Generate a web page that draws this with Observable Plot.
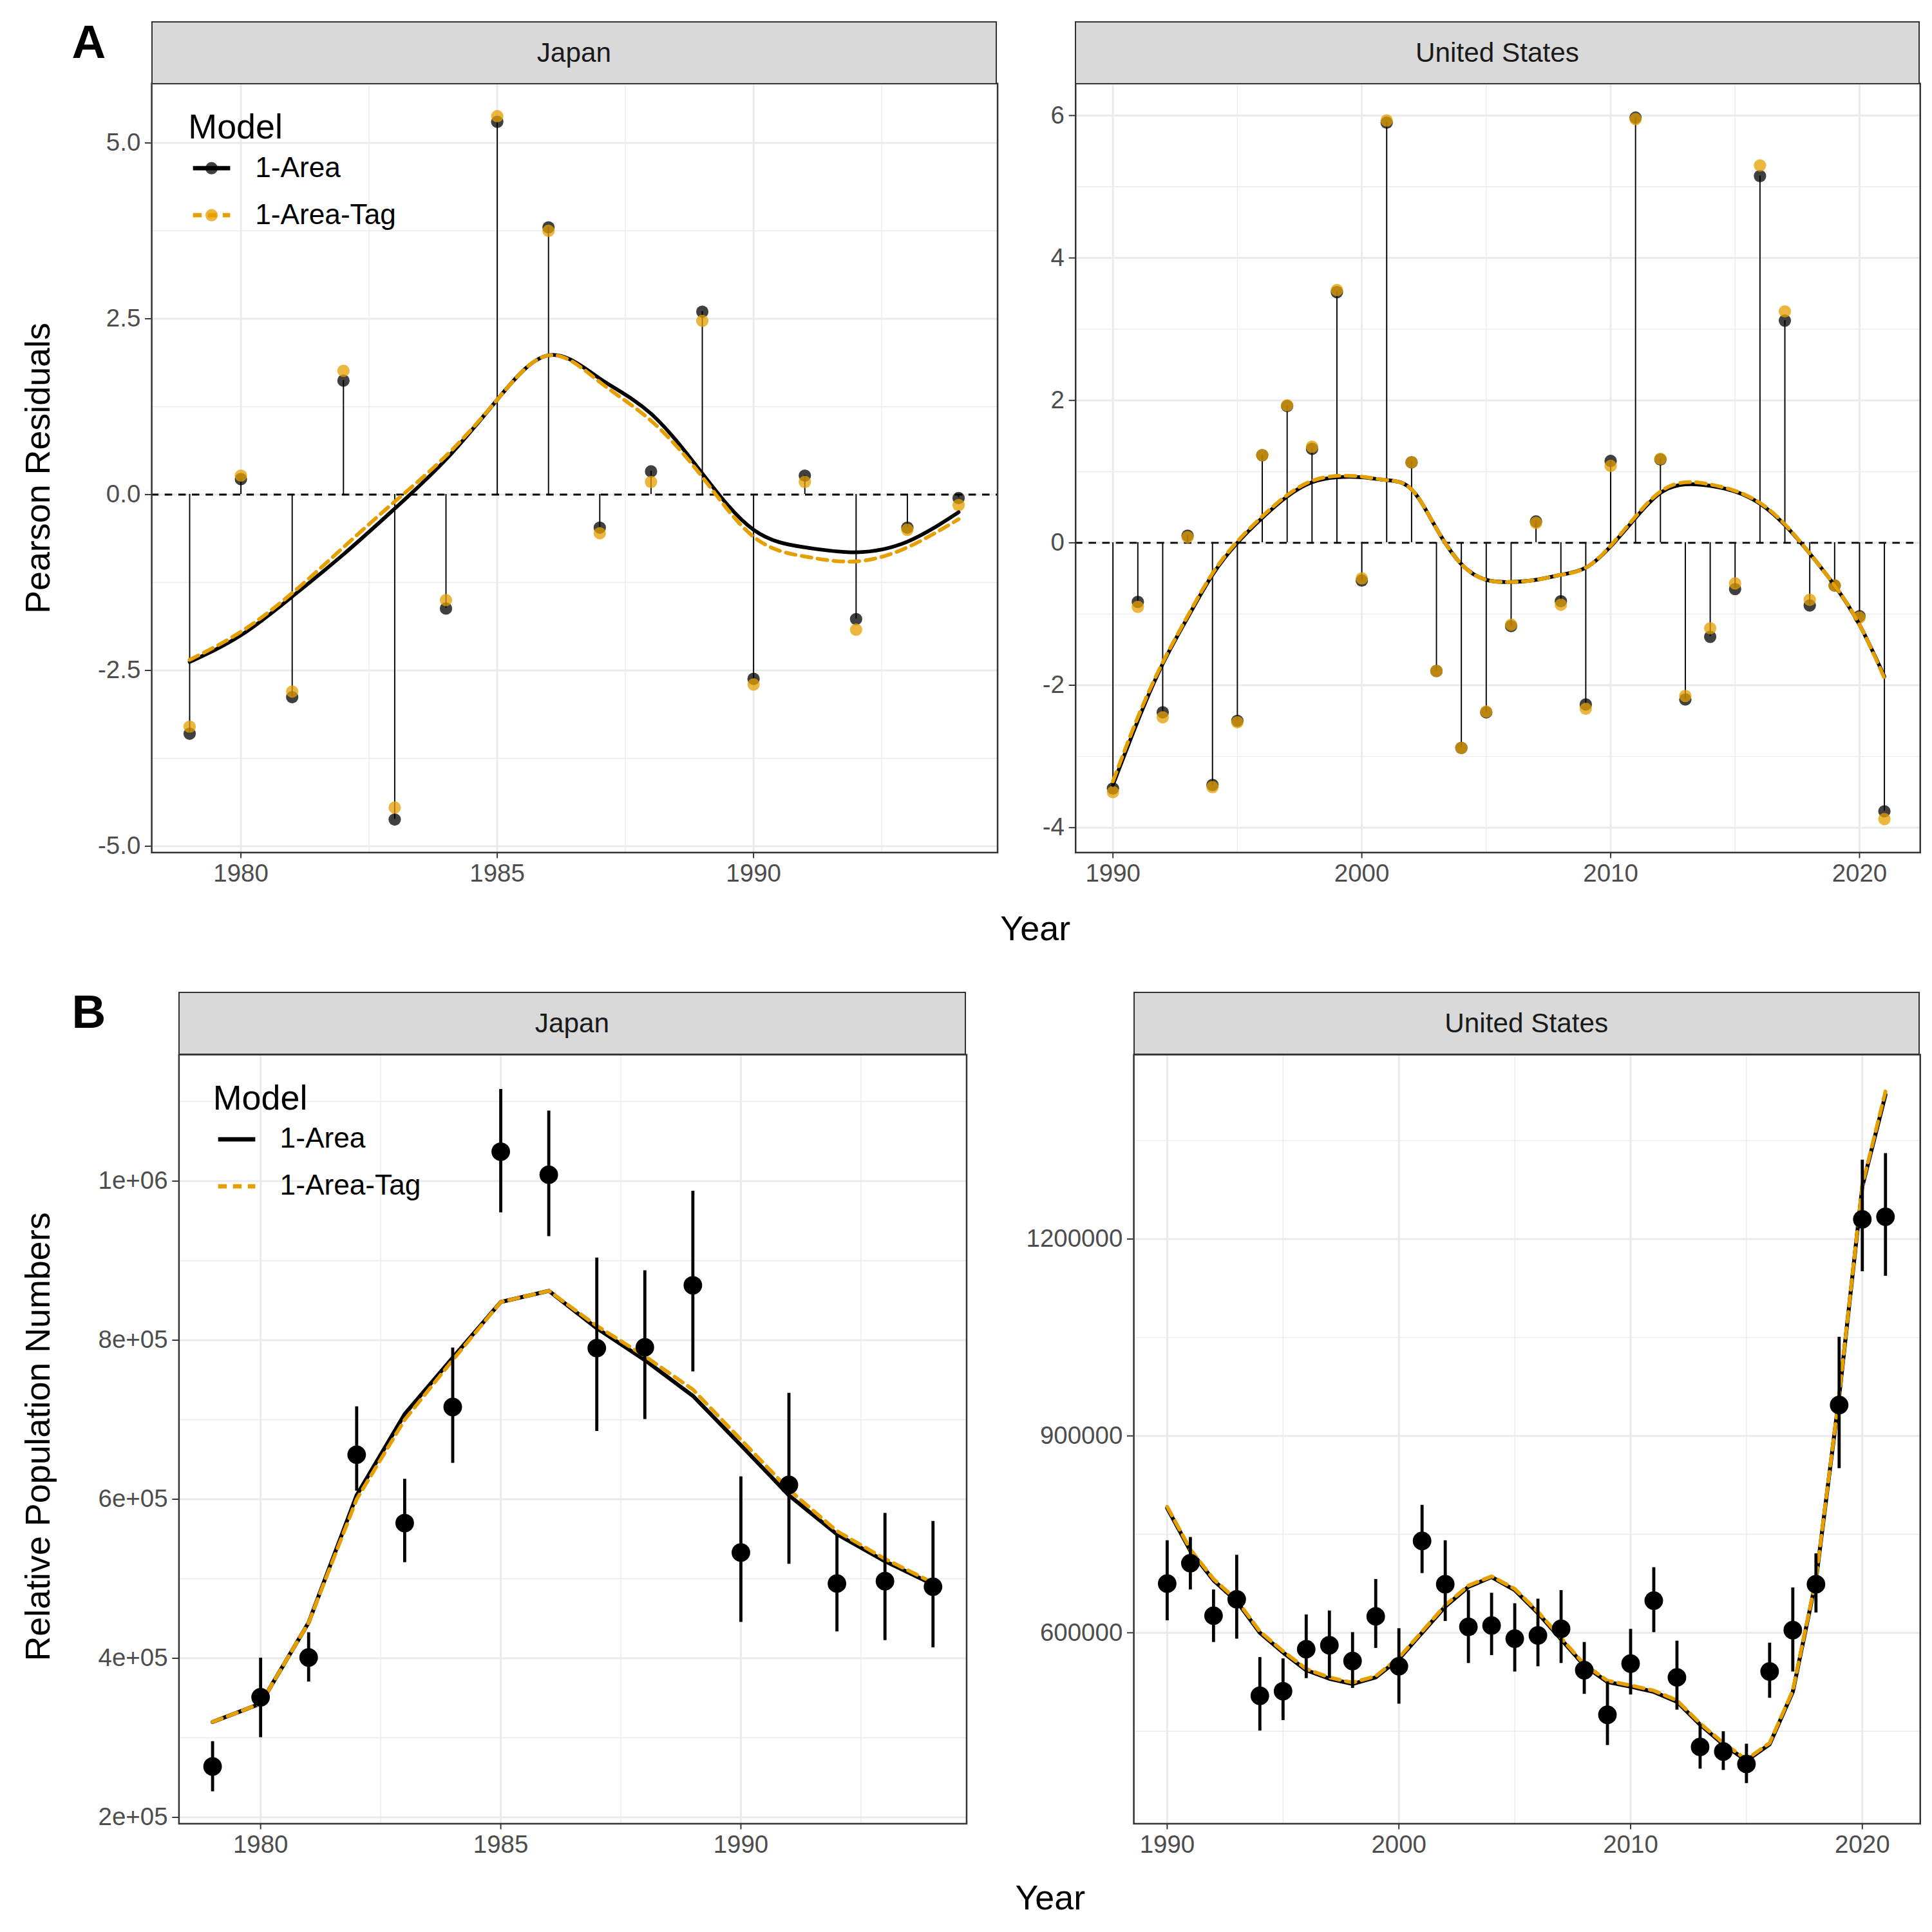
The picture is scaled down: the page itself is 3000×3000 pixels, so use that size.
<!DOCTYPE html>
<html><head><meta charset="utf-8">
<script src="https://cdn.jsdelivr.net/npm/d3@7"></script>
<script src="https://cdn.jsdelivr.net/npm/@observablehq/plot@0.6"></script>
<style>
body{margin:0;background:#fff;font-family:"Liberation Sans",Arial,sans-serif;}
#wrap{position:relative;width:1560px;height:1560px;zoom:1.9231;background:#fff;}
.abs{position:absolute;}
.strip{position:absolute;background:#d9d9d9;border:1.5px solid #333;box-sizing:border-box;text-align:center;font-size:22px;color:#1a1a1a;display:flex;align-items:center;justify-content:center;}
.txt{position:absolute;color:#000;white-space:nowrap;}
</style></head><body><div id="wrap"></div>
<script>
// ---------- DATA ----------
const jpYears = d3.range(1979, 1995);
const jpResid1Area = [-3.4,0.22,-2.88,1.62,-4.62,-1.62,5.3,3.8,-0.47,0.33,2.6,-2.62,0.27,-1.77,-0.47,-0.05];
const jpResidTag   = [-3.3,0.27,-2.8,1.76,-4.45,-1.5,5.38,3.75,-0.55,0.18,2.47,-2.7,0.18,-1.92,-0.5,-0.15];
const jpSmooth1Area = [-2.38,-2.0,-1.45,-0.85,-0.2,0.5,1.35,1.98,1.65,1.15,0.3,-0.5,-0.75,-0.82,-0.67,-0.25];
const jpSmoothTag   = [-2.35,-1.95,-1.4,-0.75,-0.1,0.55,1.35,1.98,1.6,1.05,0.25,-0.6,-0.88,-0.95,-0.75,-0.35];

const usYears = d3.range(1990, 2022);
const usResid1Area = [-3.45,-0.83,-2.38,0.1,-3.4,-2.5,1.23,1.92,1.32,3.52,-0.53,5.9,1.13,-1.8,-2.88,-2.38,-1.17,0.3,-0.82,-2.27,1.15,5.97,1.17,-2.2,-1.32,-0.65,5.15,3.12,-0.88,-0.6,-1.03,-3.77];
const usResidTag   = [-3.5,-0.9,-2.45,0.08,-3.43,-2.52,1.23,1.93,1.35,3.55,-0.5,5.93,1.13,-1.8,-2.88,-2.37,-1.15,0.28,-0.87,-2.33,1.08,5.95,1.18,-2.15,-1.2,-0.57,5.3,3.25,-0.8,-0.6,-1.05,-3.88];
const usSmooth1Area = [-3.4,-2.5,-1.7,-1.05,-0.45,0.0,0.35,0.65,0.85,0.92,0.92,0.88,0.75,0.2,-0.3,-0.52,-0.55,-0.52,-0.45,-0.35,-0.05,0.35,0.7,0.82,0.8,0.72,0.55,0.25,-0.15,-0.6,-1.15,-1.88];
const usSmoothTag   = [-3.35,-2.45,-1.68,-1.03,-0.43,0.02,0.37,0.67,0.87,0.94,0.93,0.88,0.75,0.2,-0.3,-0.52,-0.55,-0.52,-0.45,-0.35,-0.04,0.37,0.72,0.85,0.82,0.73,0.56,0.26,-0.15,-0.6,-1.15,-1.9];

const jpIndex = [264e3,351e3,401e3,656e3,570e3,716e3,1037e3,1008e3,790e3,791e3,869e3,533e3,618e3,494e3,497e3,490e3];
const jpLow   = [232e3,300e3,370e3,610e3,520e3,645e3,960e3,930e3,685e3,700e3,760e3,445e3,518e3,433e3,422e3,413e3];
const jpHigh  = [295e3,400e3,432e3,716e3,625e3,790e3,1115e3,1088e3,903e3,887e3,987e3,628e3,733e3,555e3,582e3,572e3];
const jpPop1Area = [320e3,343e3,445e3,605e3,707e3,778e3,848e3,862e3,815e3,775e3,730e3,668e3,605e3,556e3,522e3,493e3];
const jpPopTag   = [320e3,343e3,445e3,600e3,700e3,775e3,848e3,862e3,818e3,780e3,738e3,675e3,612e3,560e3,525e3,495e3];

const usIndex = [675e3,706e3,626e3,651e3,504e3,511e3,575e3,581e3,557e3,625e3,549e3,740e3,674e3,609e3,611e3,591e3,596e3,606e3,543e3,475e3,553e3,649e3,532e3,426e3,419e3,400e3,541e3,604e3,674e3,947e3,1230e3,1234e3];
const usLow   = [618e3,665e3,585e3,590e3,450e3,466e3,530e3,530e3,515e3,576e3,491e3,690e3,617e3,553e3,565e3,540e3,548e3,553e3,506e3,428e3,505e3,600e3,482e3,392e3,390e3,370e3,500e3,540e3,630e3,850e3,1150e3,1143e3];
const usHigh  = [740e3,745e3,665e3,718e3,562e3,560e3,627e3,633e3,600e3,681e3,606e3,794e3,740e3,664e3,660e3,644e3,651e3,664e3,585e3,525e3,605e3,699e3,587e3,460e3,449e3,430e3,584e3,668e3,720e3,1050e3,1320e3,1330e3];
const usPop1Area = [790e3,725e3,680e3,648e3,600e3,570e3,543e3,530e3,522e3,532e3,560e3,600e3,640e3,670e3,685e3,665e3,630e3,590e3,550e3,525e3,518e3,510e3,495e3,460e3,430e3,405e3,430e3,510e3,680e3,960e3,1280e3,1420e3];
const usPopTag   = [792e3,727e3,682e3,650e3,602e3,572e3,545e3,532e3,524e3,534e3,562e3,602e3,642e3,672e3,686e3,667e3,632e3,592e3,552e3,527e3,520e3,512e3,497e3,462e3,432e3,407e3,432e3,512e3,682e3,962e3,1282e3,1425e3];

const models = ["1-Area","1-Area-Tag"];
const ORANGE = "#E69F00";
// ---------- HELPERS ----------
const wrap = document.getElementById("wrap");
function add(el, css){ el.style.cssText += css; wrap.appendChild(el); return el; }
function text(t, css){ const d=document.createElement("div"); d.className="txt"; d.textContent=t; return add(d, css); }
function strip(t, x0, x1, y0, y1){ const d=document.createElement("div"); d.className="strip"; d.textContent=t;
  return add(d, `left:${x0}px;top:${y0}px;width:${x1-x0}px;height:${y1-y0}px;`); }

function panel({x0,x1,y0,y1,xdom,ydom,xMaj,xMin,yMaj,yMin,yfmt,marks}){
  const mL=x0, mT=4, mB=40, mR=4;
  const svg = Plot.plot({
    width: x1+mR, height: (y1-y0)+mT+mB,
    marginLeft:mL, marginRight:mR, marginTop:mT, marginBottom:mB,
    style:{fontFamily:"Liberation Sans, Arial, sans-serif", fontSize:"20px", background:"transparent", overflow:"visible"},
    x:{domain:xdom}, y:{domain:ydom},
    marks:[
      Plot.ruleY(yMin,{stroke:"#ebebeb",strokeWidth:0.7}),
      Plot.ruleX(xMin,{stroke:"#ebebeb",strokeWidth:0.7}),
      Plot.ruleY(yMaj,{stroke:"#ebebeb",strokeWidth:1.6}),
      Plot.ruleX(xMaj,{stroke:"#ebebeb",strokeWidth:1.6}),
      ...marks,
      Plot.frame({stroke:"#333",strokeWidth:1.3}),
      Plot.axisX({ticks:xMaj, tickFormat:d=>String(d), tickSize:5, tickPadding:4, stroke:"#333", color:"#4d4d4d", fontSize:20, label:null}),
      Plot.axisY({ticks:yMaj, tickFormat:yfmt, tickSize:5, tickPadding:4, stroke:"#333", color:"#4d4d4d", fontSize:20, label:null})
    ]
  });
  svg.style.position="absolute"; svg.style.left="0px"; svg.style.top=(y0-mT)+"px";
  wrap.appendChild(svg);
}

function residMarks(years, r1, rt, s1, st){
  const pts = years.map((y,i)=>({year:y,v1:r1[i],vt:rt[i]}));
  const sm1 = years.map((y,i)=>({year:y,v:s1[i]}));
  const smt = years.map((y,i)=>({year:y,v:st[i]}));
  return [
    Plot.ruleY([0],{stroke:"#000",strokeWidth:1.5,strokeDasharray:"6,5"}),
    Plot.ruleX(pts,{x:"year",y1:0,y2:"v1",stroke:"#000",strokeWidth:1}),
    Plot.dot(pts,{x:"year",y:"v1",r:5,fill:"#000",fillOpacity:0.75,stroke:null}),
    Plot.dot(pts,{x:"year",y:"vt",r:5,fill:ORANGE,fillOpacity:0.75,stroke:null}),
    Plot.line(sm1,{x:"year",y:"v",curve:"natural",stroke:"#000",strokeWidth:3}),
    Plot.line(smt,{x:"year",y:"v",curve:"natural",stroke:ORANGE,strokeWidth:3,strokeDasharray:"8,5"})
  ];
}
function popMarks(years, idx, lo, hi, p1, pt){
  const pts = years.map((y,i)=>({year:y,v:idx[i],lo:lo[i],hi:hi[i]}));
  const l1 = years.map((y,i)=>({year:y,v:p1[i]}));
  const lt = years.map((y,i)=>({year:y,v:pt[i]}));
  return [
    Plot.line(l1,{x:"year",y:"v",stroke:"#000",strokeWidth:3.2}),
    Plot.line(lt,{x:"year",y:"v",stroke:ORANGE,strokeWidth:3,strokeDasharray:"8,5"}),
    Plot.ruleX(pts,{x:"year",y1:"lo",y2:"hi",stroke:"#000",strokeWidth:2.5}),
    Plot.dot(pts,{x:"year",y:"v",r:7.5,fill:"#000",stroke:null})
  ];
}
function legend(x, y, withPoints){
  text("Model", `left:${x}px;top:${y}px;font-size:28px;`);
  models.forEach((m,i)=>{
    const yy = y+50+i*38;
    const ns="http://www.w3.org/2000/svg";
    const s=document.createElementNS(ns,"svg"); s.setAttribute("width",40); s.setAttribute("height",20);
    const ln=document.createElementNS(ns,"line");
    ln.setAttribute("x1",4);ln.setAttribute("x2",34);ln.setAttribute("y1",10);ln.setAttribute("y2",10);
    ln.setAttribute("stroke", i?ORANGE:"#000"); ln.setAttribute("stroke-width",3.5);
    if(i) ln.setAttribute("stroke-dasharray","7,5");
    s.appendChild(ln);
    if(withPoints){ const c=document.createElementNS(ns,"circle"); c.setAttribute("cx",19);c.setAttribute("cy",10);c.setAttribute("r",5);
      c.setAttribute("fill", i?ORANGE:"#000"); c.setAttribute("fill-opacity",0.75); s.appendChild(c); }
    s.style.position="absolute"; s.style.left=x+"px"; s.style.top=(yy-10)+"px"; wrap.appendChild(s);
    text(m, `left:${x+54}px;top:${yy-14}px;font-size:23px;`);
  });
}
const sciFmt = d => d===1e6 ? "1e+06" : (d/1e5)+"e+05";
// ---------- PANELS ----------
// A Japan
panel({x0:122,x1:805,y0:67,y1:688,xdom:[1978.26,1994.76],ydom:[-5.09,5.845],
  xMaj:[1980,1985,1990],xMin:[1982.5,1987.5,1992.5],yMaj:[-5,-2.5,0,2.5,5],yMin:[-3.75,-1.25,1.25,3.75],
  yfmt:d=>d.toFixed(1), marks:residMarks(jpYears,jpResid1Area,jpResidTag,jpSmooth1Area,jpSmoothTag)});
// A US
panel({x0:868,x1:1550,y0:67,y1:688,xdom:[1988.5,2022.44],ydom:[-4.35,6.45],
  xMaj:[1990,2000,2010,2020],xMin:[1995,2005,2015],yMaj:[-4,-2,0,2,4,6],yMin:[-3,-1,1,3,5],
  yfmt:d=>String(d), marks:residMarks(usYears,usResid1Area,usResidTag,usSmooth1Area,usSmoothTag)});
// B Japan
panel({x0:144,x1:780,y0:851,y1:1472,xdom:[1978.3,1994.7],ydom:[192e3,1159e3],
  xMaj:[1980,1985,1990],xMin:[1982.5,1987.5,1992.5],yMaj:[2e5,4e5,6e5,8e5,1e6],yMin:[3e5,5e5,7e5,9e5,1.1e6],
  yfmt:sciFmt, marks:popMarks(jpYears,jpIndex,jpLow,jpHigh,jpPop1Area,jpPopTag)});
// B US
panel({x0:915,x1:1550,y0:851,y1:1472,xdom:[1988.56,2022.5],ydom:[309e3,1481e3],
  xMaj:[1990,2000,2010,2020],xMin:[1995,2005,2015],yMaj:[600000,900000,1200000],yMin:[450000,750000,1050000,1350000],
  yfmt:d=>String(d), marks:popMarks(usYears,usIndex,usLow,usHigh,usPop1Area,usPopTag)});

strip("Japan",122,805,17,68); strip("United States",868,1550,17,68);
strip("Japan",144,780,801,852); strip("United States",915,1550,801,852);
legend(152,86,true); legend(172,870,false);
text("A",`left:58px;top:12px;font-size:38px;font-weight:bold;`);
text("B",`left:58px;top:795px;font-size:38px;font-weight:bold;`);
text("Year",`left:836px;top:733px;font-size:28px;transform:translateX(-50%);`);
text("Year",`left:848px;top:1516px;font-size:28px;transform:translateX(-50%);`);
text("Pearson Residuals",`left:30px;top:378px;font-size:28px;transform:translate(-50%,-50%) rotate(-90deg);`);
text("Relative Population Numbers",`left:30px;top:1160px;font-size:28px;transform:translate(-50%,-50%) rotate(-90deg);`);
</script></body></html>
